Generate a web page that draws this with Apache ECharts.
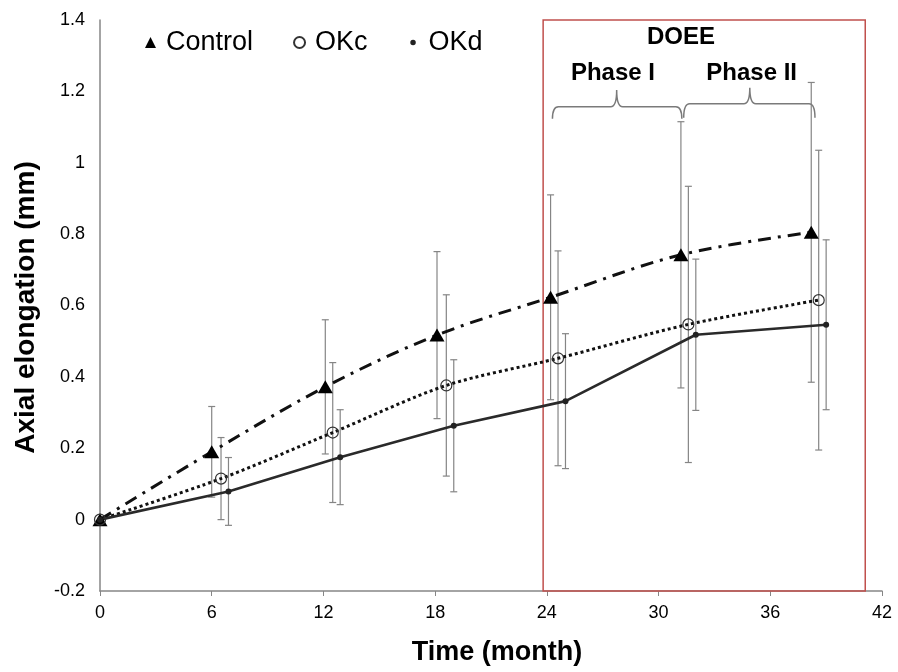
<!DOCTYPE html>
<html><head><meta charset="utf-8">
<script src="https://cdn.jsdelivr.net/npm/echarts@6/dist/echarts.min.js"></script>
<style>html,body{margin:0;padding:0;background:#fff}#c{width:898px;height:672px}</style>
</head><body><div id="c"></div>
<script>
// ---- data ----
const seriesNames = ['Control', 'OKc', 'OKd'];
const controlX = [0, 6, 12.1, 18.1, 24.2, 31.2, 38.2];
const controlY = [0, 0.19, 0.372, 0.517, 0.623, 0.742, 0.805];
const controlErr = [0, 0.127, 0.188, 0.234, 0.287, 0.373, 0.42];
const okcX = [0, 6.5, 12.5, 18.6, 24.6, 31.6, 38.6];
const okcY = [0, 0.115, 0.244, 0.376, 0.452, 0.547, 0.615];
const okcErr = [0, 0.115, 0.196, 0.254, 0.301, 0.387, 0.42];
const okdX = [0, 6.9, 12.9, 19.0, 25.0, 32.0, 39.0];
const okdY = [0, 0.079, 0.175, 0.263, 0.332, 0.518, 0.546];
const okdErr = [0, 0.095, 0.133, 0.185, 0.189, 0.212, 0.238];
const doeeRange = [23.8, 41.1];
// braces: [xStart, xEnd, xTip, yEnd, yBase, yTip]
const braces = [
  [24.3, 31.25, 27.75, 1.123, 1.157, 1.204],
  [31.35, 38.4, 34.9, 1.126, 1.165, 1.21]
];
// annotation texts: [x, y, text]
const annotations = [
  [31.2, 1.35, 'DOEE'],
  [27.55, 1.25, 'Phase I'],
  [35.0, 1.25, 'Phase II']
];

const FONT = 'Liberation Sans, Arial, Helvetica, sans-serif';
const pts = (xs, ys) => xs.map((x, i) => [x, ys[i]]);
const errData = (xs, ys, es) => xs.map((x, i) => [x, ys[i] - es[i], ys[i] + es[i]]).filter((d, i) => es[i] > 0);

function errRender(params, api) {
  const x = api.value(0), lo = api.value(1), hi = api.value(2);
  const a = api.coord([x, hi]), b = api.coord([x, lo]);
  const w = 3.5;
  const st = { stroke: '#858585', lineWidth: 1.2 };
  return { type: 'group', children: [
    { type: 'line', shape: { x1: a[0], y1: a[1], x2: b[0], y2: b[1] }, style: st },
    { type: 'line', shape: { x1: a[0] - w, y1: a[1], x2: a[0] + w, y2: a[1] }, style: st },
    { type: 'line', shape: { x1: b[0] - w, y1: b[1], x2: b[0] + w, y2: b[1] }, style: st }
  ]};
}

function braceRender(params, api) {
  const x0 = api.value(0), x1 = api.value(1), xt = api.value(2);
  const yE = api.value(3), yB = api.value(4), yT = api.value(5);
  const pL = api.coord([x0, yE]), pB = api.coord([x0, yB]), pR = api.coord([x1, yE]);
  const pT = api.coord([xt, yT]);
  const r = 6;
  const yb = pB[1];
  const d = `M${pL[0]},${pL[1]} Q${pL[0]},${yb} ${pL[0] + r},${yb} L${pT[0] - r},${yb} Q${pT[0]},${yb} ${pT[0]},${pT[1]} Q${pT[0]},${yb} ${pT[0] + r},${yb} L${pR[0] - r},${yb} Q${pR[0]},${yb} ${pR[0]},${pR[1]}`;
  return { type: 'path', shape: { pathData: d }, style: { stroke: '#7a7a7a', lineWidth: 1.5, fill: null } };
}

function textRender(params, api) {
  const p = api.coord([api.value(0), api.value(1)]);
  return { type: 'text', x: p[0], y: p[1], style: {
    text: annotations[params.dataIndex][2], align: 'center', verticalAlign: 'middle',
    font: 'bold 24px ' + FONT, fill: '#000' } };
}

const chart = echarts.init(document.getElementById('c'));
chart.setOption({
  backgroundColor: '#fff',
  animation: false,
  grid: { left: 100, right: 16, top: 20, bottom: 81 },
  legend: {
    left: 140, top: 24, itemWidth: 11, itemHeight: 11, itemGap: 40,
    textStyle: { fontSize: 27, fontFamily: FONT, color: '#000', padding: [0, 0, 0, 5] },
    data: [
      { name: 'Control', icon: 'triangle' },
      { name: 'OKc', icon: 'circle' },
      { name: 'OKd', icon: 'path://M0,0L0,0.01M10,10L10,10.01M5,2.5A2.5,2.5 0 1 0 5.001,2.5Z' }
    ]
  },
  xAxis: {
    type: 'value', min: 0, max: 42, interval: 6,
    name: 'Time (month)', nameLocation: 'middle', nameGap: 48,
    nameTextStyle: { fontSize: 27, fontWeight: 'bold', fontFamily: FONT, color: '#000', padding: [0, 0, 0, 12] },
    axisLine: { onZero: false, lineStyle: { color: '#868686', width: 1.5 } },
    axisTick: { show: true, length: 5, lineStyle: { color: '#868686' } },
    axisLabel: { fontSize: 18, fontFamily: FONT, color: '#000', margin: 13 },
    splitLine: { show: false }
  },
  yAxis: {
    type: 'value', min: -0.2, max: 1.4, interval: 0.2,
    name: 'Axial elongation (mm)', nameLocation: 'middle', nameGap: 60,
    nameTextStyle: { fontSize: 28, fontWeight: 'bold', fontFamily: FONT, color: '#000', padding: [0, 4, 0, 0] },
    axisLine: { show: true, lineStyle: { color: '#868686', width: 1.5 } },
    axisTick: { show: false },
    axisLabel: { fontSize: 18, fontFamily: FONT, color: '#000', margin: 15,
      formatter: v => String(Math.round(v * 10) / 10) },
    splitLine: { show: false }
  },
  series: [
    { type: 'custom', name: 'errC', renderItem: errRender, data: errData(controlX, controlY, controlErr), z: 1, silent: true },
    { type: 'custom', name: 'errK', renderItem: errRender, data: errData(okcX, okcY, okcErr), z: 1, silent: true },
    { type: 'custom', name: 'errD', renderItem: errRender, data: errData(okdX, okdY, okdErr), z: 1, silent: true },
    {
      name: 'Control', type: 'line', data: pts(controlX, controlY), smooth: 0.35, z: 3,
      symbol: 'triangle', symbolSize: [15, 13],
      itemStyle: { color: '#000' },
      lineStyle: { color: '#111', width: 3, type: [13, 7, 3, 7] },
      markArea: {
        silent: true,
        itemStyle: { color: 'rgba(0,0,0,0)', borderColor: '#c0504d', borderWidth: 1.5 },
        data: [[{ coord: [doeeRange[0], 1.405] }, { coord: [doeeRange[1], -0.2] }]]
      }
    },
    {
      name: 'OKc', type: 'line', data: pts(okcX, okcY), smooth: 0.3, z: 3,
      symbol: 'circle', symbolSize: 11,
      itemStyle: { color: 'rgba(255,255,255,0)', borderColor: '#333', borderWidth: 1.2 },
      lineStyle: { color: '#111', width: 3, type: [3, 3] }
    },
    {
      name: 'OKd', type: 'line', data: pts(okdX, okdY), smooth: false, z: 3,
      symbol: 'circle', symbolSize: 6,
      itemStyle: { color: '#222' },
      lineStyle: { color: '#2a2a2a', width: 2.6 }
    },
    { type: 'custom', name: 'braces', renderItem: braceRender, data: braces, silent: true, clip: false, z: 2 },
    { type: 'custom', name: 'notes', renderItem: textRender, data: annotations.map(a => [a[0], a[1]]), silent: true, clip: false, z: 4 }
  ]
});
</script></body></html>
